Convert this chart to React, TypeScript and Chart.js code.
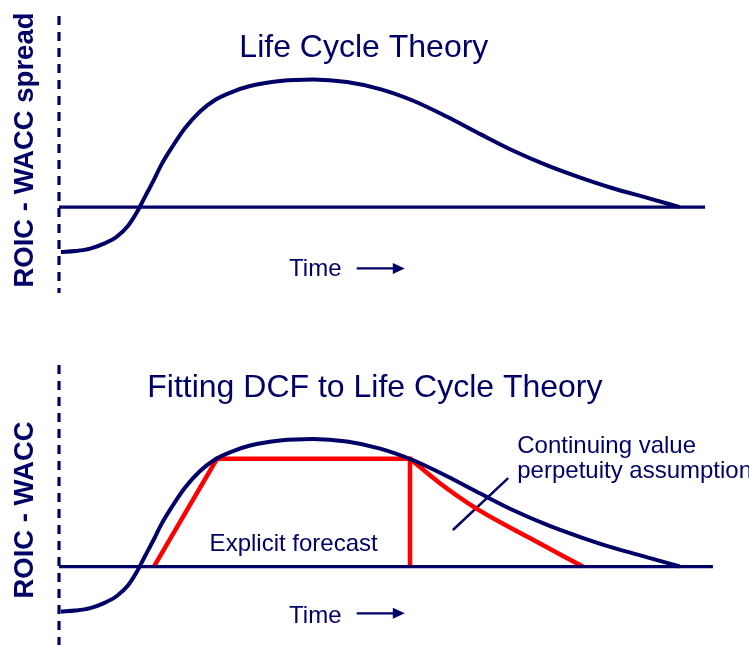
import React, { useEffect, useRef } from 'react';
import { Chart, registerables } from 'chart.js';

Chart.register(...registerables);

const NAVY = '#000066';
const RED = '#ff0000';
const FONT = '"Liberation Sans", Arial, Helvetica, sans-serif';

// Time axis (0 = start of life cycle, 100 = end of chart) and ROIC - WACC spread (peak = 100)
const lifeCycleTime = [0.3, 2.5, 4.8, 7.1, 8.9, 10.6, 12.0, 13.2, 14.5, 15.8, 17.4, 19.4, 21.7, 24.0, 26.6, 29.4, 34.0, 39.1, 44.3, 49.4, 54.5, 59.7, 64.8, 69.8, 75.1, 80.2, 85.2, 90.5, 95.5];
const lifeCycleSpread = [-35.1, -34.3, -32.4, -28.1, -23.0, -14.8, -3.9, 7.8, 20.3, 33.5, 46.8, 61.6, 74.5, 83.5, 89.7, 94.4, 98.3, 99.5, 97.5, 92.0, 82.9, 70.4, 56.9, 44.1, 32.5, 23.0, 14.7, 7.2, 0];

const explicitTime = [14.6, 24.3, 54.0, 54.0];
const explicitSpread = [0, 84, 84, 0];

const continuingTime = [54.0, 58.6, 64.3, 72.5, 80.6];
const continuingSpread = [84, 65, 45, 22, 0];

const pointerTime = [60.6, 69.1];
const pointerSpread = [28.5, 69];

const topAxisEnd = 99.4;
const bottomAxisEnd = 100.6;

const topRange = { min: -67, max: 149 };
const bottomRange = { min: -61.2, max: 157.2 };

type Note = {
  text: string;
  t: number;
  v: number;
  size: number;
  bold?: boolean;
  align: CanvasTextAlign;
  rotate?: boolean;
};
type Arrow = { t0: number; t1: number; v: number };

const topNotes: Note[] = [
  { text: 'Life Cycle Theory', t: 46.9, v: 117.2, size: 32, align: 'center' },
  { text: 'Time', t: 35.4, v: -53.8, size: 24, align: 'left' },
  { text: 'ROIC - WACC spread', t: -3.95, v: 44.5, size: 27.5, bold: true, align: 'center', rotate: true },
];
const topArrows: Arrow[] = [{ t0: 45.8, t1: 53.2, v: -47.8 }];

const bottomNotes: Note[] = [
  { text: 'Fitting DCF to Life Cycle Theory', t: 48.6, v: 132.4, size: 32, align: 'center' },
  { text: 'Time', t: 35.4, v: -44.3, size: 24, align: 'left' },
  { text: 'Explicit forecast', t: 36.1, v: 12.3, size: 24, align: 'center' },
  { text: 'Continuing value', t: 70.5, v: 88.3, size: 24, align: 'left' },
  { text: 'perpetuity assumption', t: 70.5, v: 68.8, size: 24, align: 'left' },
  { text: 'ROIC - WACC', t: -3.95, v: 44.1, size: 27.5, bold: true, align: 'center', rotate: true },
];
const bottomArrows: Arrow[] = [{ t0: 45.8, t1: 53.2, v: -36.5 }];

const pts = (xs: number[], ys: number[]) => xs.map((x, i) => ({ x, y: ys[i] }));

function notesPlugin(notes: Note[], arrows: Arrow[]) {
  return {
    id: 'notes',
    afterDatasetsDraw(chart: any) {
      const { ctx } = chart;
      const xs = chart.scales.x;
      const ys = chart.scales.y;
      ctx.save();
      ctx.fillStyle = NAVY;
      ctx.strokeStyle = NAVY;
      for (const n of notes) {
        const px = xs.getPixelForValue(n.t);
        const py = ys.getPixelForValue(n.v);
        ctx.font = `${n.bold ? 'bold ' : ''}${n.size}px ${FONT}`;
        ctx.textAlign = n.align;
        ctx.textBaseline = 'alphabetic';
        if (n.rotate) {
          ctx.save();
          ctx.translate(px, py);
          ctx.rotate(-Math.PI / 2);
          ctx.fillText(n.text, 0, 0);
          ctx.restore();
        } else {
          ctx.fillText(n.text, px, py);
        }
      }
      for (const a of arrows) {
        const x0 = xs.getPixelForValue(a.t0);
        const x1 = xs.getPixelForValue(a.t1);
        const y = ys.getPixelForValue(a.v);
        ctx.lineWidth = 2.2;
        ctx.beginPath();
        ctx.moveTo(x0, y);
        ctx.lineTo(x1 - 8, y);
        ctx.stroke();
        ctx.beginPath();
        ctx.moveTo(x1, y);
        ctx.lineTo(x1 - 12, y - 5.5);
        ctx.lineTo(x1 - 12, y + 5.5);
        ctx.closePath();
        ctx.fill();
      }
      ctx.restore();
    },
  };
}

function baseDatasets(range: { min: number; max: number }, axisEnd: number) {
  return [
    {
      label: 'axis',
      data: [{ x: 0, y: range.max }, { x: 0, y: range.min }],
      borderColor: NAVY,
      borderWidth: 3.2,
      borderDash: [9, 7],
      pointRadius: 0,
      tension: 0,
      clip: false,
    },
    {
      label: 'zero',
      data: [{ x: 0, y: 0 }, { x: axisEnd, y: 0 }],
      borderColor: NAVY,
      borderWidth: 3.2,
      pointRadius: 0,
      tension: 0,
      clip: false,
    },
    {
      label: 'life cycle',
      data: pts(lifeCycleTime, lifeCycleSpread),
      borderColor: NAVY,
      borderWidth: 4,
      pointRadius: 0,
      cubicInterpolationMode: 'monotone',
      clip: false,
    },
  ];
}

function makeConfig(datasets: any[], range: { min: number; max: number }, padTop: number, padBottom: number, plugin: any) {
  return {
    type: 'line',
    data: { datasets },
    options: {
      responsive: false,
      animation: false,
      events: [],
      layout: { padding: { left: 59, right: 40, top: padTop, bottom: padBottom } },
      scales: {
        x: { type: 'linear', min: 0, max: 100, display: false },
        y: { type: 'linear', min: range.min, max: range.max, display: false },
      },
      plugins: { legend: { display: false }, tooltip: { enabled: false }, title: { display: false } },
    },
    plugins: [plugin],
  } as any;
}

export default function App() {
  const topRef = useRef<HTMLCanvasElement>(null);
  const bottomRef = useRef<HTMLCanvasElement>(null);

  useEffect(() => {
    const top = new Chart(
      topRef.current!,
      makeConfig(baseDatasets(topRange, topAxisEnd), topRange, 16, 29, notesPlugin(topNotes, topArrows))
    );
    const bottomSets = [
      ...baseDatasets(bottomRange, bottomAxisEnd),
      {
        label: 'explicit forecast',
        data: pts(explicitTime, explicitSpread),
        borderColor: RED,
        borderWidth: 4.5,
        pointRadius: 0,
        tension: 0,
        clip: false,
      },
      {
        label: 'continuing value',
        data: pts(continuingTime, continuingSpread),
        borderColor: RED,
        borderWidth: 4.5,
        pointRadius: 0,
        cubicInterpolationMode: 'monotone',
        clip: false,
      },
      {
        label: 'pointer',
        data: pts(pointerTime, pointerSpread),
        borderColor: NAVY,
        borderWidth: 2.5,
        pointRadius: 0,
        tension: 0,
        clip: false,
      },
    ];
    const bottom = new Chart(
      bottomRef.current!,
      makeConfig(bottomSets, bottomRange, 43, 0, notesPlugin(bottomNotes, bottomArrows))
    );
    return () => {
      top.destroy();
      bottom.destroy();
    };
  }, []);

  return (
    <div style={{ position: 'absolute', left: 0, top: 0, width: 749, height: 645, background: '#fff' }}>
      <canvas ref={topRef} width={749} height={322} style={{ display: 'block', width: 749, height: 322 }} />
      <canvas ref={bottomRef} width={749} height={323} style={{ display: 'block', width: 749, height: 323 }} />
    </div>
  );
}
